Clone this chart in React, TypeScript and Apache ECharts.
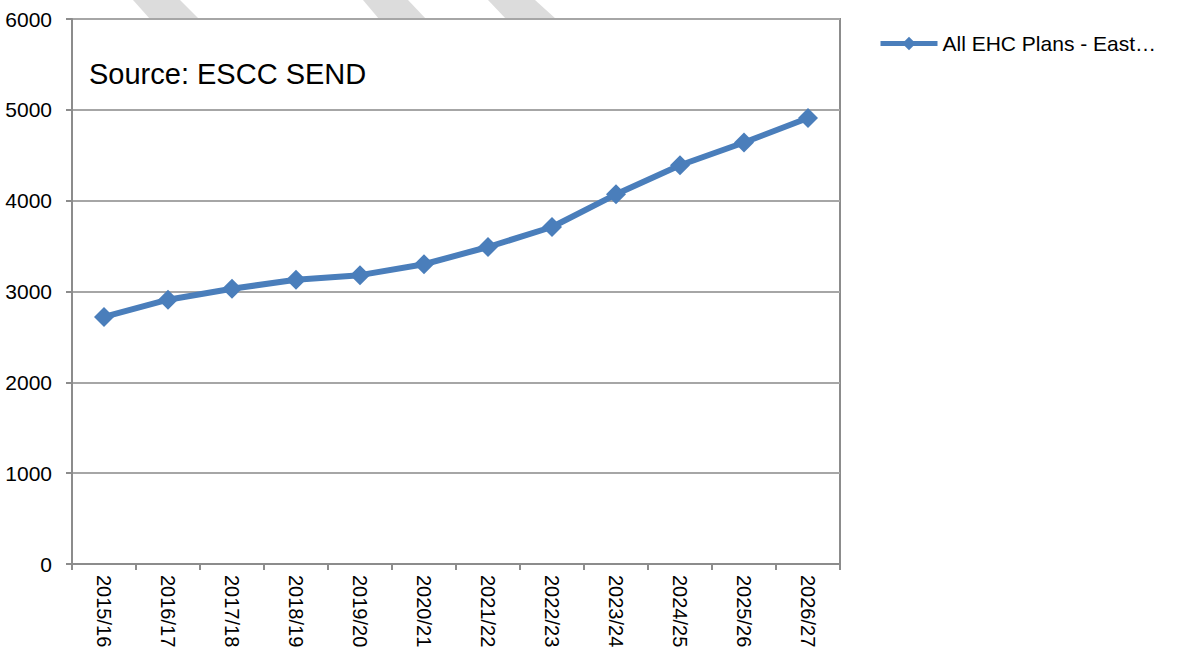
import React, { useEffect, useRef } from "react";
import * as echarts from "echarts";

const categories: string[] = [
  "2015/16", "2016/17", "2017/18", "2018/19", "2019/20", "2020/21",
  "2021/22", "2022/23", "2023/24", "2024/25", "2025/26", "2026/27",
];
const seriesName = "All EHC Plans - East…";
const values: number[] = [2720, 2910, 3030, 3130, 3180, 3300, 3490, 3710, 4070, 4390, 4640, 4910];
const yMin = 0;
const yMax = 6000;
const yInterval = 1000;
const sourceText = "Source: ESCC SEND";

const FONT = "'Liberation Sans', Arial, sans-serif";
const LINE_COLOR = "#4a7ebb";

export default function App() {
  const ref = useRef<HTMLDivElement>(null);

  useEffect(() => {
    if (!ref.current) return;
    const chart = echarts.init(ref.current, undefined, { renderer: "svg" });
    const band = (pts: number[][]) => ({
      type: "polygon",
      silent: true,
      z: -10,
      shape: { points: pts },
      style: { fill: "#dcdcdc" },
    });
    chart.setOption({
      animation: false,
      backgroundColor: "#ffffff",
      textStyle: { fontFamily: FONT },
      grid: {
        left: 72,
        right: 347,
        top: 19,
        bottom: 88,
        containLabel: false,
        outerBoundsMode: "none",
        show: true,
        borderColor: "#8c8c8c",
        borderWidth: 2,
        backgroundColor: "transparent",
      },
      legend: {
        left: 878,
        top: 33,
        padding: 0,
        itemWidth: 57,
        itemHeight: 17,
        textStyle: { fontSize: 21, color: "#000", fontFamily: FONT },
        lineStyle: { width: 5 },
        itemGap: 4,
        data: [{ name: seriesName }],
      },
      xAxis: {
        type: "category",
        data: categories,
        boundaryGap: true,
        axisLine: { lineStyle: { color: "#8c8c8c", width: 2 } },
        axisTick: { show: true, length: 6, lineStyle: { color: "#8c8c8c", width: 2 } },
        axisLabel: {
          rotate: -90,
          margin: 11,
          fontSize: 20,
          color: "#000",
          fontFamily: FONT,
          interval: 0,
        },
      },
      yAxis: {
        type: "value",
        min: yMin,
        max: yMax,
        interval: yInterval,
        axisLine: { show: true, lineStyle: { color: "#8c8c8c", width: 2 } },
        axisTick: { show: true, length: 6, lineStyle: { color: "#8c8c8c", width: 2 } },
        axisLabel: {
          margin: 20,
          fontSize: 21,
          color: "#000",
          fontFamily: FONT,
          formatter: (v: number) => String(v),
        },
        splitLine: { show: true, lineStyle: { color: "#a6a6a6", width: 2 } },
      },
      graphic: [
        band([[133, 0], [180, 0], [199, 19], [150, 19]]),
        band([[363, 0], [408, 0], [426, 19], [379, 19]]),
        band([[488, 0], [535, 0], [556, 19], [506, 19]]),
        {
          type: "text",
          x: 89,
          y: 74,
          style: {
            text: sourceText,
            fontSize: 29,
            fontFamily: FONT,
            fill: "#000",
            textVerticalAlign: "middle",
          },
        },
      ],
      series: [
        {
          name: seriesName,
          type: "line",
          data: values,
          symbol: "diamond",
          symbolSize: 20,
          lineStyle: { color: LINE_COLOR, width: 6 },
          itemStyle: { color: LINE_COLOR },
        },
      ],
    });
    return () => chart.dispose();
  }, []);

  return (
    <div
      ref={ref}
      style={{ position: "fixed", left: 0, top: 0, width: 1187, height: 652, background: "#fff" }}
    />
  );
}
